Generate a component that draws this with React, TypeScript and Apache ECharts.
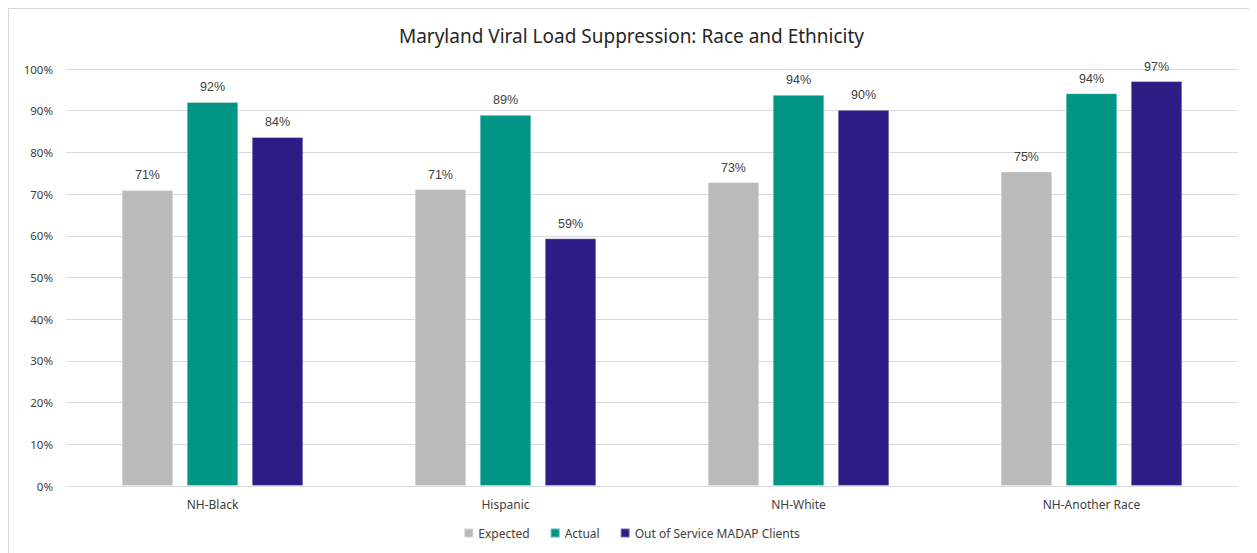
import React, { useEffect, useRef } from "react";
import * as echarts from "echarts";

const categories = ["NH-Black", "Hispanic", "NH-White", "NH-Another Race"];
const expected = [71.0, 71.2, 72.9, 75.4];
const actual = [92.1, 89.0, 93.8, 94.2];
const outOfService = [83.7, 59.4, 90.2, 97.1];
const yTicks = [0, 10, 20, 30, 40, 50, 60, 70, 80, 90, 100];

const seriesNames = ["Expected", "Actual", "Out of Service MADAP Clients"];
const seriesColors = ["#BABABA", "#009585", "#2E1C85"];

export default function App() {
  const ref = useRef<HTMLDivElement>(null);

  useEffect(() => {
    if (!ref.current) return;
    const chart = echarts.init(ref.current, null, { renderer: "svg" });
    const values = [expected, actual, outOfService];
    chart.setOption({
      animation: false,
      backgroundColor: "#ffffff",
      title: {
        text: "Maryland Viral Load Suppression: Race and Ethnicity",
        left: "center",
        top: 12,
        textStyle: {
          fontFamily: "Noto Sans",
          fontSize: 19,
          fontWeight: "normal",
          color: "#262626",
        },
      },
      legend: {
        bottom: 9,
        left: "center",
        itemWidth: 9,
        itemHeight: 9,
        itemGap: 20,
        icon: "rect",
        textStyle: { fontFamily: "Noto Sans", fontSize: 12, color: "#404040" },
        data: seriesNames,
      },
      grid: { left: 57, right: 16, top: 60, bottom: 67, containLabel: false },
      xAxis: {
        type: "category",
        data: categories,
        axisTick: { show: false },
        axisLine: { lineStyle: { color: "#D9D9D9", width: 1 } },
        axisLabel: {
          margin: 12,
          fontFamily: "Noto Sans",
          fontSize: 12,
          color: "#404040",
        },
      },
      yAxis: {
        type: "value",
        min: yTicks[0],
        max: yTicks[yTicks.length - 1],
        interval: 10,
        axisLine: { show: false },
        axisTick: { show: false },
        splitLine: { lineStyle: { color: "#D9D9D9", width: 1 } },
        axisLabel: {
          margin: 13,
          fontFamily: "Noto Sans",
          fontSize: 11.5,
          color: "#404040",
          formatter: (v: number) => `${v}%`,
        },
      },
      series: seriesNames.map((name, i) => ({
        name,
        type: "bar",
        data: values[i],
        barGap: "26%",
        barCategoryGap: "38%",
        itemStyle: {
          color: seriesColors[i],
          borderColor: "rgba(255,255,255,0.35)",
          borderWidth: 1,
        },
        label: {
          show: true,
          position: "top",
          distance: 8,
          fontFamily: "Liberation Sans",
          fontSize: 12.5,
          color: "#404040",
          formatter: (p: any) => `${Math.round(p.value)}%`,
        },
      })),
    });
    return () => chart.dispose();
  }, []);

  return (
    <div
      style={{
        width: 1247,
        height: 545,
        boxSizing: "border-box",
        borderTop: "1px solid #D9D9D9",
        borderLeft: "1px solid #D9D9D9",
        borderRight: "1px solid #D9D9D9",
        overflow: "hidden",
      }}
    >
      <div ref={ref} style={{ width: 1245, height: 544 }} />
    </div>
  );
}
